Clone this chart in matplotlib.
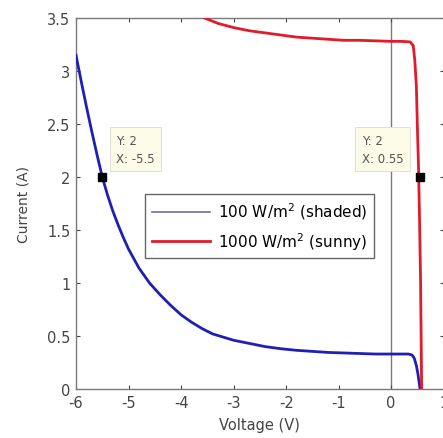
import matplotlib
matplotlib.use("Agg")
import matplotlib.pyplot as plt

plt.rcParams['font.family'] = ['DejaVu Sans']
plt.rcParams['axes.unicode_minus'] = False

# curva com sombra (100 W/m2)
v_shaded = [-6.0, -5.9, -5.8, -5.7, -5.6, -5.5, -5.4, -5.3, -5.2, -5.1, -5.0, -4.8, -4.6, -4.4,
            -4.2, -4.0, -3.8, -3.6, -3.4, -3.2, -3.0, -2.7, -2.4, -2.1, -1.8, -1.5, -1.2,
            -0.9, -0.6, -0.3, 0.0, 0.2, 0.33, 0.4, 0.44, 0.48, 0.51, 0.53, 0.55]
i_shaded = [3.15, 2.9, 2.66, 2.43, 2.21, 2.0, 1.83, 1.68, 1.55, 1.43, 1.32, 1.14, 1.0, 0.89,
            0.79, 0.7, 0.63, 0.57, 0.52, 0.49, 0.46, 0.43, 0.40, 0.38, 0.365, 0.355, 0.345,
            0.34, 0.335, 0.33, 0.33, 0.33, 0.33, 0.32, 0.29, 0.22, 0.14, 0.07, 0.0]

# curva ao sol (1000 W/m2)
v_sunny = [-3.55, -3.3, -3.0, -2.7, -2.4, -2.1, -1.8, -1.5, -1.2, -0.9, -0.6, -0.3, 0.0, 0.2,
           0.36, 0.42, 0.45, 0.48, 0.5, 0.52, 0.54, 0.56, 0.57, 0.58]
i_sunny = [3.5, 3.45, 3.41, 3.38, 3.36, 3.34, 3.32, 3.31, 3.30, 3.29, 3.29, 3.285, 3.28, 3.28,
           3.275, 3.24, 3.1, 2.85, 2.45, 2.1, 1.6, 1.0, 0.5, 0.0]

tips_x = [-5.5, 0.55]
tips_y = [2, 2]
tip_labels = ['Y: 2\nX: -5.5', 'Y: 2\nX: 0.55']

fig = plt.figure(figsize=(4.43, 4.39), dpi=100)
ax = fig.add_axes([0.1716, 0.1116, 0.83, 0.845])

cinza = '#7a7a7a'
ax.axvline(0, color=cinza, lw=1.0, zorder=1)

ax.plot(v_shaded, i_shaded, color='#1f1fb4', lw=2.0, label='100 W/m$^2$ (shaded)', zorder=3)
ax.plot(v_sunny, i_sunny, color='#e01b2a', lw=2.0, label='1000 W/m$^2$ (sunny)', zorder=3)

ax.plot(tips_x, tips_y, 's', color='black', ms=6, zorder=5)
# caixinhas dos data tips: a primeira à direita, a segunda à esquerda do ponto
offsets = [(10, 9, 'left'), (-12, 9, 'right')]
for (x, y, t), (dx, dy, ha) in zip(zip(tips_x, tips_y, tip_labels), offsets):
    ax.annotate(t, (x, y), xytext=(dx, dy), textcoords='offset points', fontsize=8.5,
                color='#555555', va='bottom', ha=ha, multialignment='left', linespacing=1.5,
                bbox=dict(boxstyle='square,pad=0.55', fc='#fbfbe8', ec='#dcdccc', lw=0.6))

ax.set_xlim(-6, 1)
ax.set_ylim(0, 3.5)
ax.set_xticks([-6, -5, -4, -3, -2, -1, 0, 1])
ax.set_yticks([0, 0.5, 1, 1.5, 2, 2.5, 3, 3.5])
ax.set_yticklabels(['0', '0.5', '1', '1.5', '2', '2.5', '3', '3.5'])
ax.tick_params(direction='in', top=True, right=True, colors='#444444', labelsize=10.5,
               length=3, width=0.8, pad=4)
for s in ax.spines.values():
    s.set_color(cinza)
    s.set_linewidth(1.0)
ax.set_xlabel('Voltage (V)', fontsize=10.5, color='#444444', labelpad=5)
ax.set_ylabel('Current (A)', fontsize=10, color='#444444', labelpad=12)

leg = ax.legend(loc='upper left', bbox_to_anchor=(0.188, 0.526), fontsize=11, fancybox=False,
                edgecolor='#666666', framealpha=1, handlelength=3.8, borderpad=0.45,
                labelspacing=0.55, handletextpad=0.5, borderaxespad=0)
leg.get_frame().set_linewidth(1.0)
leg.get_lines()[0].set_color('#7070a8')
leg.get_lines()[0].set_linewidth(1.2)

fig.savefig('out.png', dpi=100)
